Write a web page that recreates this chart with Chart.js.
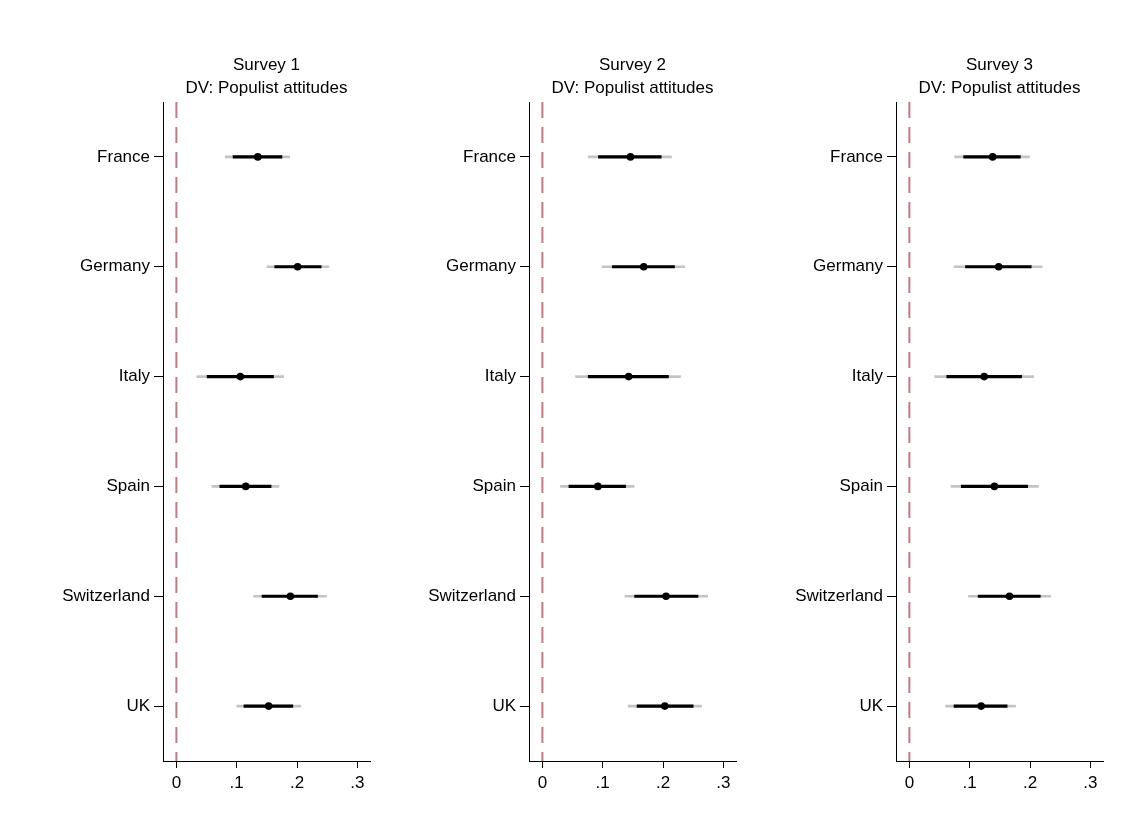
<!DOCTYPE html>
<html>
<head>
<meta charset="utf-8">
<script src="https://cdn.jsdelivr.net/npm/chart.js@4/dist/chart.umd.min.js"></script>
<style>
  html, body { margin: 0; padding: 0; background: #fff; }
  #wrap { position: relative; width: 1137px; height: 829px; overflow: hidden; }
  canvas { position: absolute; top: 0; }
</style>
</head>
<body>
<div id="wrap">
  <canvas id="p1" width="380" height="829" style="left:0px"></canvas>
  <canvas id="p2" width="380" height="829" style="left:366px"></canvas>
  <canvas id="p3" width="380" height="829" style="left:733px"></canvas>
</div>
<script>
// Countries (rows) and axis ticks
const countries = ['France', 'Germany', 'Italy', 'Spain', 'Switzerland', 'UK'];
const xTickValues = [0, 0.1, 0.2, 0.3];
const xTickLabels = ['0', '.1', '.2', '.3'];
const dvLabel = 'DV: Populist attitudes';

// Survey 1: coefficients with 90% and 95% confidence intervals
const s1Coef = [0.135, 0.201, 0.106, 0.115, 0.189, 0.153];
const s1Lo90 = [0.094, 0.163, 0.051, 0.072, 0.142, 0.112];
const s1Hi90 = [0.175, 0.240, 0.161, 0.157, 0.234, 0.193];
const s1Lo95 = [0.081, 0.150, 0.034, 0.059, 0.128, 0.100];
const s1Hi95 = [0.188, 0.253, 0.178, 0.170, 0.249, 0.206];

// Survey 2
const s2Coef = [0.146, 0.168, 0.143, 0.092, 0.205, 0.203];
const s2Lo90 = [0.093, 0.116, 0.076, 0.044, 0.153, 0.157];
const s2Hi90 = [0.197, 0.219, 0.209, 0.138, 0.258, 0.250];
const s2Lo95 = [0.076, 0.099, 0.055, 0.030, 0.137, 0.142];
const s2Hi95 = [0.214, 0.236, 0.229, 0.152, 0.274, 0.264];

// Survey 3
const s3Coef = [0.138, 0.148, 0.124, 0.141, 0.166, 0.119];
const s3Lo90 = [0.090, 0.093, 0.062, 0.086, 0.114, 0.074];
const s3Hi90 = [0.184, 0.202, 0.186, 0.196, 0.217, 0.162];
const s3Lo95 = [0.075, 0.074, 0.042, 0.069, 0.098, 0.060];
const s3Hi95 = [0.199, 0.220, 0.206, 0.214, 0.234, 0.176];

const FONT = "'Liberation Sans', Arial, sans-serif";
const TEXT = '#000000';

// Two-line panel heading centred over the plot area
const headingPlugin = {
  id: 'heading',
  afterDraw(chart, args, opts) {
    const ctx = chart.ctx;
    const a = chart.chartArea;
    const cx = (a.left + a.right) / 2;
    ctx.save();
    ctx.fillStyle = TEXT;
    ctx.font = '17px ' + FONT;
    ctx.textAlign = 'center';
    ctx.textBaseline = 'middle';
    ctx.fillText(opts.line1, cx, 65);
    ctx.fillText(opts.line2, cx, 88);
    ctx.restore();
  }
};

// Dashed reference line at zero
const zeroLinePlugin = {
  id: 'zeroLine',
  beforeDatasetsDraw(chart) {
    const ctx = chart.ctx;
    const a = chart.chartArea;
    const x = chart.scales.x.getPixelForValue(0);
    ctx.save();
    ctx.strokeStyle = '#c27a82';
    ctx.lineWidth = 2;
    ctx.setLineDash([16, 9]);
    ctx.beginPath();
    ctx.moveTo(x, a.top);
    ctx.lineTo(x, a.bottom);
    ctx.stroke();
    ctx.restore();
  }
};

function zip(lo, hi) {
  return lo.map((v, i) => [v, hi[i]]);
}

function makePanel(id, title, coef, lo90, hi90, lo95, hi95) {
  new Chart(document.getElementById(id), {
    type: 'bar',
    data: {
      labels: countries,
      datasets: [
        {
          type: 'line',
          label: 'Estimate',
          data: coef,
          showLine: false,
          pointRadius: 3.8,
          pointBackgroundColor: '#000',
          pointBorderColor: '#000',
          pointBorderWidth: 0
        },
        {
          label: '90% CI',
          data: zip(lo90, hi90),
          backgroundColor: '#000',
          borderWidth: 0,
          barThickness: 2.5,
          grouped: false
        },
        {
          label: '95% CI',
          data: zip(lo95, hi95),
          backgroundColor: '#c4c4c4',
          borderWidth: 0,
          barThickness: 2,
          grouped: false
        }
      ]
    },
    options: {
      indexAxis: 'y',
      responsive: false,
      animation: false,
      layout: { padding: { top: 102, right: 10, bottom: 0, left: 0 } },
      plugins: {
        legend: { display: false },
        tooltip: { enabled: false },
        heading: { line1: title, line2: dvLabel }
      },
      scales: {
        x: {
          type: 'linear',
          position: 'bottom',
          min: -0.0222,
          max: 0.321,
          afterBuildTicks: (scale) => {
            scale.ticks = xTickValues.map(v => ({ value: v }));
          },
          afterFit: (scale) => { scale.height = 68; },
          grid: { drawOnChartArea: false, drawTicks: true, tickLength: 7, color: '#000', lineWidth: 1 },
          border: { display: true, color: '#000', width: 1 },
          ticks: {
            color: TEXT,
            font: { family: FONT, size: 17 },
            padding: 5,
            maxRotation: 0,
            callback: (v) => {
              const i = xTickValues.findIndex(t => Math.abs(t - v) < 1e-9);
              return i >= 0 ? xTickLabels[i] : '';
            }
          }
        },
        y: {
          type: 'category',
          position: 'left',
          offset: true,
          afterFit: (scale) => { scale.width = 163; },
          grid: { drawOnChartArea: false, drawTicks: true, tickLength: 9, color: '#000', lineWidth: 1, offset: false },
          border: { display: true, color: '#000', width: 1 },
          ticks: {
            color: TEXT,
            font: { family: FONT, size: 17 },
            padding: 4
          }
        }
      }
    },
    plugins: [headingPlugin, zeroLinePlugin]
  });
}

makePanel('p1', 'Survey 1', s1Coef, s1Lo90, s1Hi90, s1Lo95, s1Hi95);
makePanel('p2', 'Survey 2', s2Coef, s2Lo90, s2Hi90, s2Lo95, s2Hi95);
makePanel('p3', 'Survey 3', s3Coef, s3Lo90, s3Hi90, s3Lo95, s3Hi95);
</script>
</body>
</html>
